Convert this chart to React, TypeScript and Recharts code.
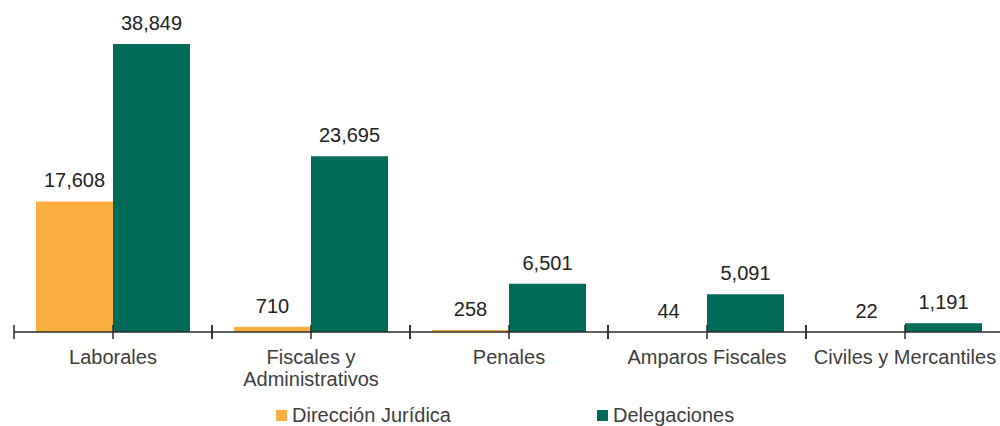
import { BarChart, Bar, XAxis, YAxis, LabelList } from "recharts";

const categories = [
  "Laborales",
  "Fiscales y\nAdministrativos",
  "Penales",
  "Amparos Fiscales",
  "Civiles y Mercantiles",
];
const direccionJuridica = [17608, 710, 258, 44, 22];
const delegaciones = [38849, 23695, 6501, 5091, 1191];
const seriesNames = ["Dirección Jurídica", "Delegaciones"];

const ORANGE = "#FBAF41";
const GREEN = "#006B59";
const FONT = "'Liberation Sans', Arial, Helvetica, sans-serif";

const CHART_W = 1010;
const CHART_H = 426;
const MARGIN = { top: 44, right: 6, left: 14, bottom: 0 };
const BAND = (CHART_W - MARGIN.left - MARGIN.right) / categories.length;

const data = categories.map((name, i) => ({
  name,
  juridica: direccionJuridica[i],
  delegaciones: delegaciones[i],
}));

const fmt = (v: number) => v.toLocaleString("en-US");

function CategoryTick(props: any) {
  const { x, y, payload } = props;
  const lines = String(payload.value).split("\n");
  return (
    <g>
      {[x - BAND / 2, x, x + BAND / 2].map((tx, i) => (
        <line key={i} x1={tx} x2={tx} y1={y - 7} y2={y + 7} stroke="#2b2b2b" strokeWidth={1.5} />
      ))}
      <text x={x} y={y + 32} textAnchor="middle" fill="#3d3d3d" fontSize={20} fontFamily={FONT}>
        {lines.map((l, i) => (
          <tspan key={i} x={x} dy={i === 0 ? 0 : 22}>
            {l}
          </tspan>
        ))}
      </text>
    </g>
  );
}

function LegendBox() {
  const items = [
    { name: seriesNames[0], color: ORANGE, left: 276 },
    { name: seriesNames[1], color: GREEN, left: 597 },
  ];
  return (
    <>
      {items.map((it) => (
        <div
          key={it.name}
          style={{
            position: "absolute",
            left: it.left,
            top: 404,
            display: "flex",
            alignItems: "center",
            fontFamily: FONT,
            fontSize: 20,
            lineHeight: "22px",
            color: "#3d3d3d",
          }}
        >
          <span style={{ width: 11, height: 11, background: it.color, marginRight: 5, marginTop: 1 }} />
          {it.name}
        </div>
      ))}
    </>
  );
}

export default function App() {
  return (
    <div
      style={{
        position: "absolute",
        left: 0,
        top: 0,
        width: 1000,
        height: CHART_H,
        overflow: "hidden",
        background: "#fff",
      }}
    >
      <BarChart
        width={CHART_W}
        height={CHART_H}
        data={data}
        margin={MARGIN}
        barCategoryGap={22}
        barGap={0}
      >
        <XAxis
          dataKey="name"
          height={94}
          interval={0}
          tickSize={0}
          tickMargin={0}
          tickLine={false}
          axisLine={{ stroke: "#2b2b2b", strokeWidth: 1.5 }}
          tick={<CategoryTick />}
        />
        <YAxis hide domain={[0, "dataMax"]} />
        <Bar dataKey="juridica" name={seriesNames[0]} fill={ORANGE} isAnimationActive={false}>
          <LabelList
            dataKey="juridica"
            position="top"
            offset={14}
            formatter={(v: any) => fmt(Number(v))}
            style={{ fontSize: 20, fontFamily: FONT, fill: "#222" }}
          />
        </Bar>
        <Bar dataKey="delegaciones" name={seriesNames[1]} fill={GREEN} isAnimationActive={false}>
          <LabelList
            dataKey="delegaciones"
            position="top"
            offset={14}
            formatter={(v: any) => fmt(Number(v))}
            style={{ fontSize: 20, fontFamily: FONT, fill: "#222" }}
          />
        </Bar>
      </BarChart>
      <LegendBox />
    </div>
  );
}
